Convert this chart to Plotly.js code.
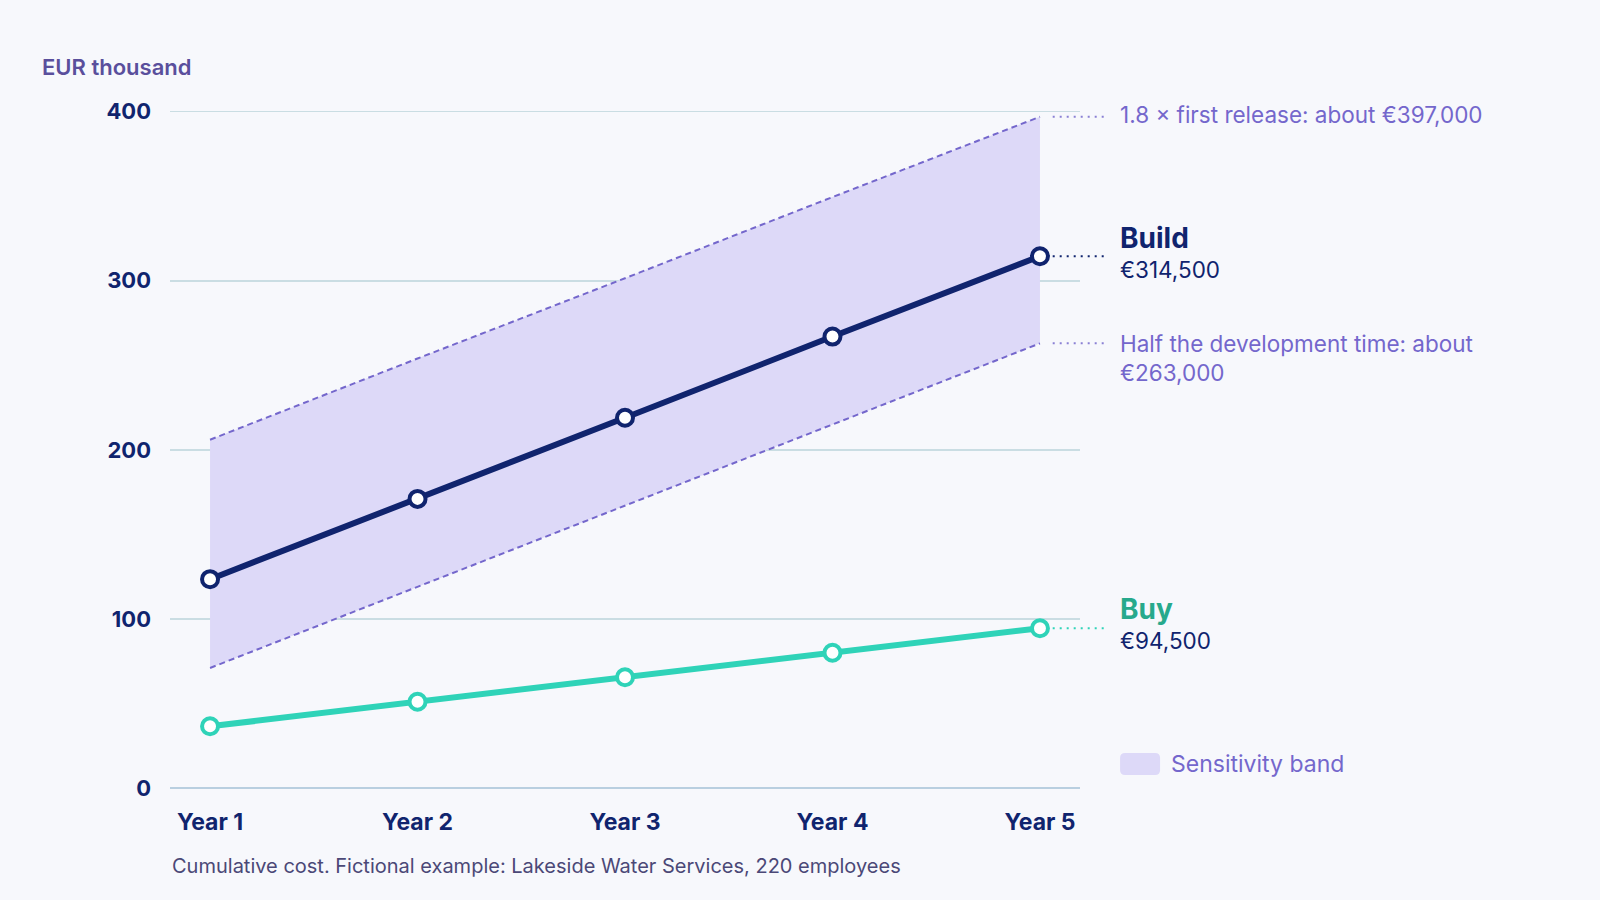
<!DOCTYPE html>
<html>
<head>
<meta charset="utf-8">
<script src="https://cdn.plot.ly/plotly-3.0.1.min.js"></script>
<style>
  html, body { margin: 0; padding: 0; background: #f7f8fc; }
  #chart { width: 1600px; height: 900px; }
</style>
</head>
<body>
<div id="chart"></div>
<script>
/* DATA */
// Cumulative cost, EUR thousand
const years = ['Year 1', 'Year 2', 'Year 3', 'Year 4', 'Year 5'];
const buildCost = [123.5, 171, 219, 267, 314.5];
const buyCost = [36.5, 51, 65.5, 80, 94.5];
// Sensitivity band edges
const bandHigh = [206, 254, 301.5, 349.5, 397];
const bandLow = [71, 119, 167, 215, 263];
const yTicks = [0, 100, 200, 300, 400];

/* COLOURS */
const navy = '#10246e';
const teal = '#2fd3b8';
const tealText = '#27a98c';
const purple = '#7467cc';
const bandFill = '#ddd9f8';
const font = 'Inter, "Open Sans", sans-serif';

// Band: lower edge first, upper edge fills down to it
const traceLow = {
  type: 'scatter',
  x: years,
  y: bandLow,
  mode: 'lines',
  line: { color: purple, width: 2, dash: '6px,4px' },
  hoverinfo: 'skip',
  showlegend: false
};

const traceHigh = {
  type: 'scatter',
  x: years,
  y: bandHigh,
  mode: 'lines',
  fill: 'tonexty',
  fillcolor: bandFill,
  line: { color: purple, width: 2, dash: '6px,4px' },
  hoverinfo: 'skip',
  showlegend: false
};

function costLine(y, color) {
  return {
    type: 'scatter',
    x: years,
    y: y,
    mode: 'lines+markers',
    line: { color: color, width: 6 },
    marker: { size: 16, color: '#ffffff', line: { color: color, width: 4 } },
    hoverinfo: 'skip',
    showlegend: false,
    cliponaxis: false
  };
}

const traceBuild = costLine(buildCost, navy);
const traceBuy = costLine(buyCost, teal);

// Dotted leader from the end of a line to its label
function leader(yVal, color) {
  return {
    type: 'line',
    xref: 'paper', yref: 'y',
    x0: 0.970, x1: 1.028,
    y0: yVal, y1: yVal,
    line: { color: color, width: 2, dash: '2px,5px' }
  };
}

const last = years.length - 1;

const annotations = [
  { text: 'EUR thousand', xref: 'paper', yref: 'paper', x: -0.143, y: 1.063,
    xanchor: 'left', yanchor: 'middle', showarrow: false,
    font: { family: font, size: 22, color: '#5a4f9c', weight: 600 } },
  { text: 'Cumulative cost. Fictional example: Lakeside Water Services, 220 employees',
    xref: 'paper', yref: 'paper', x: 0, y: -0.115, xanchor: 'left', yanchor: 'middle',
    showarrow: false, font: { family: font, size: 20, color: '#4b4877' } },
  { text: '1.8 × first release: about €397,000', xref: 'paper', yref: 'y',
    x: 1.042, y: bandHigh[last], yshift: 2, xanchor: 'left', yanchor: 'middle',
    showarrow: false, font: { family: font, size: 22.5, color: purple } },
  { text: '<b>Build</b>', xref: 'paper', yref: 'y', x: 1.042, y: buildCost[last],
    yshift: 18, xanchor: 'left', yanchor: 'middle', showarrow: false,
    font: { family: font, size: 28, color: navy } },
  { text: '€314,500', xref: 'paper', yref: 'y', x: 1.042, y: buildCost[last],
    yshift: -13, xanchor: 'left', yanchor: 'middle', showarrow: false,
    font: { family: font, size: 22.5, color: navy } },
  { text: 'Half the development time: about<br>€263,000', xref: 'paper', yref: 'y',
    x: 1.042, y: bandLow[last], yshift: 15, xanchor: 'left', yanchor: 'top', align: 'left',
    showarrow: false, font: { family: font, size: 22.5, color: purple } },
  { text: '<b>Buy</b>', xref: 'paper', yref: 'y', x: 1.042, y: buyCost[last],
    yshift: 19, xanchor: 'left', yanchor: 'middle', showarrow: false,
    font: { family: font, size: 28, color: tealText } },
  { text: '€94,500', xref: 'paper', yref: 'y', x: 1.042, y: buyCost[last],
    yshift: -12, xanchor: 'left', yanchor: 'middle', showarrow: false,
    font: { family: font, size: 22.5, color: navy } },
  { text: 'Sensitivity band', xref: 'paper', yref: 'y', x: 1.098, y: 14.2,
    xanchor: 'left', yanchor: 'middle', showarrow: false,
    font: { family: font, size: 23, color: purple } }
];

const shapes = [
  leader(bandHigh[last], '#8a80d4'),
  leader(buildCost[last], navy),
  leader(bandLow[last], '#8a80d4'),
  leader(buyCost[last], teal),
  // legend swatch, rounded box in pixels around its anchor
  { type: 'path', xref: 'paper', yref: 'y', xsizemode: 'pixel', ysizemode: 'pixel',
    xanchor: 1.066, yanchor: 14.2,
    path: 'M -15,-11 L 15,-11 Q 20,-11 20,-6 L 20,6 Q 20,11 15,11 L -15,11 Q -20,11 -20,6 L -20,-6 Q -20,-11 -15,-11 Z',
    fillcolor: bandFill, line: { width: 0 } }
];

const layout = {
  width: 1600,
  height: 900,
  paper_bgcolor: '#f7f8fc',
  plot_bgcolor: '#f7f8fc',
  margin: { l: 170, r: 520, t: 110, b: 112 },
  showlegend: false,
  hovermode: false,
  xaxis: {
    type: 'category',
    range: [-0.193, 4.193],
    showgrid: false,
    zeroline: false,
    showline: false,
    ticks: '',
    ticklabelstandoff: 18,
    tickfont: { family: font, size: 23, color: navy, weight: 700 },
    fixedrange: true
  },
  yaxis: {
    range: [0, 401],
    tickvals: yTicks,
    showgrid: true,
    gridcolor: '#cadde3',
    gridwidth: 1.5,
    zeroline: true,
    zerolinecolor: '#b9cfe0',
    zerolinewidth: 2.5,
    showline: false,
    ticks: '',
    ticklabelstandoff: 18,
    tickfont: { family: font, size: 22, color: navy, weight: 700 },
    fixedrange: true
  },
  annotations: annotations,
  shapes: shapes
};

Plotly.newPlot('chart', [traceLow, traceHigh, traceBuild, traceBuy], layout,
  { displayModeBar: false, staticPlot: true });
</script>
</body>
</html>
